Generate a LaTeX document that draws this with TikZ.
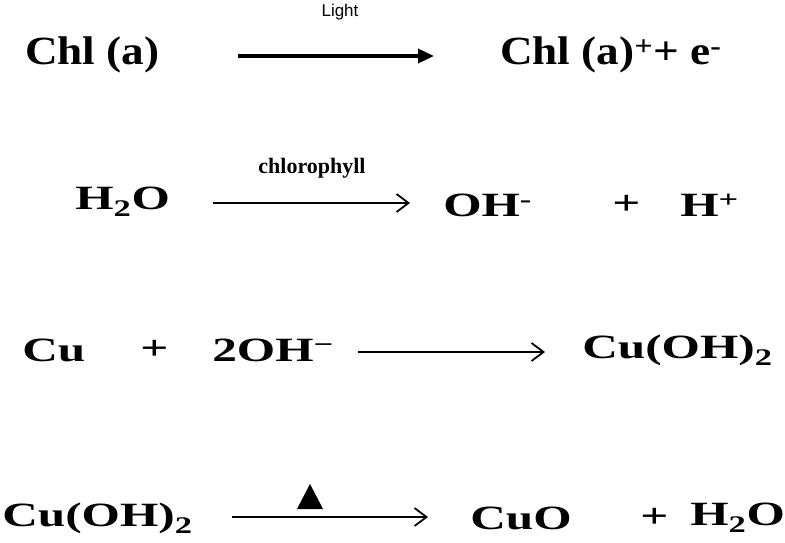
\documentclass[tikz,border=0pt]{standalone}
\usepackage{fontspec}
\setmainfont{Liberation Serif}
\newfontfamily\lab{Liberation Sans}
\usetikzlibrary{arrows.meta}
\begin{document}
\begin{tikzpicture}[x=1pt,y=-1pt,
  chem/.style={font=\fontsize{34}{36}\selectfont\bfseries,anchor=west,inner sep=0,xscale=1.45},
  big/.style={font=\fontsize{40}{42}\selectfont\bfseries,anchor=west,inner sep=0,xscale=1.13},
  thickarr/.style={line width=3.5pt,-{Triangle[length=16pt,width=14pt]}},
  thinarr/.style={line width=1.8pt,-{Straight Barb[length=12pt,width=18pt,line width=1.8pt]}}]
\useasboundingbox (0,0) rectangle (785,543);
% row 1
\node[big] (a1) at (25,55) {Chl (a)};
\coordinate (a1s) at (238,56); \coordinate (a1e) at (434,56);
\draw[thickarr] (a1s) -- (a1e);
\node[font=\lab\fontsize{17}{19}\selectfont] (l1) at (340,12) {Light};
\node[big] (a2) at (500,55) {Chl (a)\textsuperscript{+}+ e\textsuperscript{-}};
% row 2
\node[chem] (b1) at (75,202) {H\textsubscript{2}O};
\coordinate (b1s) at (213,203); \coordinate (b1e) at (410,203);
\draw[thinarr] (b1s) -- (b1e);
\node[font=\fontsize{22}{24}\selectfont\bfseries] (l2) at (312,168) {chlorophyll};
\node[chem] (b2) at (443,205) {OH\textsuperscript{-}};
\node[chem] (b3) at (612,205) {+};
\node[chem] (b4) at (680,205) {H\textsuperscript{+}};
% row 3
\node[chem] (c1) at (22,350) {Cu};
\node[chem] (c2) at (140,350) {+};
\node[chem] (c3) at (212,350) {2OH\textsuperscript{−}};
\coordinate (c1s) at (358,352); \coordinate (c1e) at (545,352);
\draw[thinarr] (c1s) -- (c1e);
\node[chem] (c4) at (582,350) {Cu(OH)\textsubscript{2}};
% row 4
\node[chem] (d1) at (2,518) {Cu(OH)\textsubscript{2}};
\coordinate (d1s) at (232,517); \coordinate (d1e) at (428,517);
\draw[thinarr] (d1s) -- (d1e);
\fill (297,509) -- (310,484) -- (323,509) -- cycle;
\node[chem] (d2) at (470,518) {CuO};
\node[chem] (d3) at (640,518) {+};
\node[chem] (d4) at (690,518) {H\textsubscript{2}O};
\end{tikzpicture}
\end{document}
